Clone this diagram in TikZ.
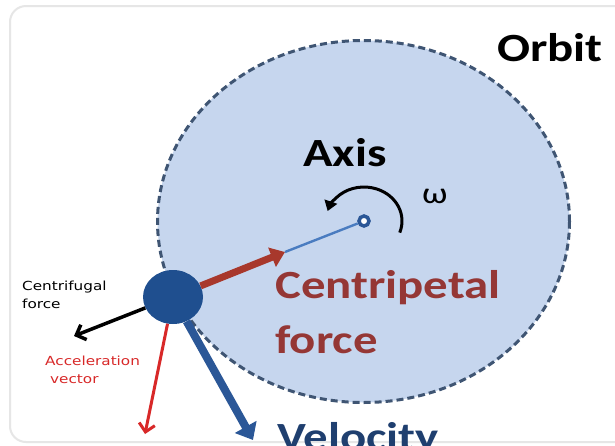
\documentclass[tikz,border=0pt]{standalone}
\usepackage{fontspec}
\usepackage{graphicx}
\setmainfont{Carlito}
\newfontfamily\smallfont{DejaVu Sans}
\usetikzlibrary{arrows.meta,shapes.geometric}
\definecolor{orbitfill}{HTML}{C6D6EE}
\definecolor{orbitline}{HTML}{3F5573}
\definecolor{planetblue}{HTML}{1F4F8F}
\definecolor{cpred}{HTML}{A8382C}
\definecolor{cptext}{HTML}{953735}
\definecolor{velblue}{HTML}{2B5797}
\definecolor{veltext}{HTML}{1F3F6F}
\definecolor{thinblue}{HTML}{4A7CC0}
\definecolor{accred}{HTML}{D82828}
\definecolor{framegray}{HTML}{E6E6E6}
\newcommand\stretchtxt[1]{\scalebox{1.22}[1]{#1}}
\tikzset{
  bigtext/.style={anchor=base west, inner sep=0, font=\fontsize{40}{48}\selectfont\bfseries},
  smalltext/.style={anchor=base west, inner sep=0, align=left, font=\smallfont\fontsize{12.5}{18}\selectfont},
}
\begin{document}
\begin{tikzpicture}[x=1pt,y=-1pt]
\useasboundingbox (0,0) rectangle (615,445);
\clip (0,0) rectangle (615,445);
\fill[white] (0,0) rectangle (615,445);
% frame
\draw[framegray, line width=2pt, rounded corners=16pt] (10,6) rectangle (640,442);
% orbit
\node[ellipse, draw=orbitline, fill=orbitfill, line width=3pt, dash pattern=on 7pt off 4pt,
      minimum width=412pt, minimum height=362pt, inner sep=0] (orbit) at (363.5,221.5) {};
% axis and planet
\node[circle, draw=velblue, line width=3.5pt, fill=white, minimum size=10pt, inner sep=0] (axis) at (364,221) {};
\node[ellipse, fill=planetblue, minimum width=60pt, minimum height=54pt, inner sep=0] (planet) at (173,297) {};
\coordinate (cptip) at (285,252);
\draw[thinblue, line width=2.4pt] (cptip) -- (axis);
\draw[cpred, line width=7pt, -{Triangle[length=14pt,width=20pt]}] (planet) -- (cptip);
% rotation
\draw[black, line width=3pt, -{Triangle[length=10pt,width=13pt]}]
  ([shift={(20:38 and 34)}]axis.center) arc[start angle=20, end angle=-163, x radius=38, y radius=34];
% velocity
\coordinate (vtip) at (253,440);
\draw[velblue, line width=8pt, -{Triangle[length=15pt,width=24pt]}] (planet) -- (vtip);
% centrifugal
\coordinate (cftip) at (74,336);
\draw[black, line width=3.5pt, -{Straight Barb[length=8pt,width=16pt]}] (planet) -- (cftip);
% acceleration
\coordinate (actip) at (145,434);
\draw[accred, line width=3pt, -{Straight Barb[length=8pt,width=16pt]}] (planet) -- (actip);
% labels
\node[bigtext] (orbitlbl) at (497,61) {\stretchtxt{Orbit}};
\node[bigtext] (axislbl) at (303,166) {\stretchtxt{Axis}};
\node[anchor=base west, inner sep=0, font=\fontsize{30}{36}\selectfont] (omega) at (422,203) {\stretchtxt{ω}};
\node[bigtext, text=cptext] (cp1) at (275,298) {\stretchtxt{Centripetal}};
\node[bigtext, text=cptext] (cp2) at (275,353) {\stretchtxt{force}};
\node[bigtext, text=veltext] (vel) at (277,450) {\stretchtxt{Velocity}};
\node[smalltext] (cflbl) at (22,308) {\stretchtxt{Centrifugal}\\\stretchtxt{force}};
\node[smalltext, text=accred] (aclbl) at (45,383) {\stretchtxt{Acceleration}\\\hspace{5pt}\stretchtxt{vector}};
\end{tikzpicture}
\end{document}
